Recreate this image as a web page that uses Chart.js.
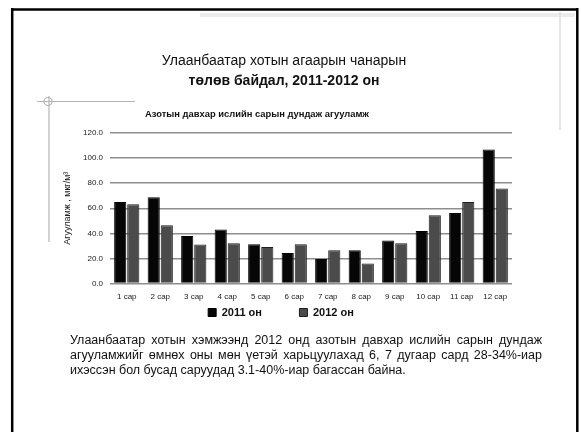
<!DOCTYPE html>
<html>
<head>
<meta charset="utf-8">
<script src="https://cdn.jsdelivr.net/npm/chart.js@4.4.1/dist/chart.umd.min.js"></script>
<style>
  html, body { margin: 0; padding: 0; background: #fff; }
  #slide { position: relative; width: 581px; height: 432px; overflow: hidden; font-family: "Liberation Sans", Arial, sans-serif; }
  #airChart { position: absolute; left: 0; top: 0; }
  #deco { position: absolute; left: 0; top: 0; }
  .head { position: absolute; left: 84px; width: 400px; text-align: center; color: #111; }
  .head.l1 { top: 52px; font-size: 14px; }
  .head.l2 { top: 72px; font-size: 14px; font-weight: bold; }
  .ctitle { position: absolute; left: 57px; width: 400px; top: 108px; text-align: center;
            font-size: 9.4px; font-weight: bold; color: #111; }
  .note { position: absolute; left: 70px; width: 472px; top: 333px; margin: 0;
          font-size: 12.5px; line-height: 15px; text-align: justify; color: #111; }
</style>
</head>
<body>
<div id="slide">
  <canvas id="airChart" width="581" height="432"></canvas>
  <svg id="deco" width="581" height="432">
    <!-- slide frame -->
    <line x1="12" y1="9.5" x2="578" y2="9.5" stroke="#000" stroke-width="2.5"/>
    <line x1="12.2" y1="8" x2="12.2" y2="432" stroke="#000" stroke-width="2.5"/>
    <line x1="577.3" y1="8" x2="577.3" y2="432" stroke="#000" stroke-width="2.5"/>
    <rect x="200" y="13" width="375" height="4" fill="#ececec"/>
    <line x1="560" y1="12" x2="560" y2="130" stroke="#dedede" stroke-width="1.5"/>
    <!-- corner ornament -->
    <line x1="37" y1="101.5" x2="135" y2="101.5" stroke="#b4b4b4" stroke-width="1.2"/>
    <line x1="49" y1="96" x2="49" y2="242" stroke="#b4b4b4" stroke-width="1.2"/>
    <circle cx="48" cy="101.5" r="4" fill="none" stroke="#b4b4b4" stroke-width="1.2"/>
  </svg>
  <div class="head l1">Улаанбаатар хотын агаарын чанарын</div>
  <div class="head l2">төлөв байдал, 2011-2012 он</div>
  <div class="ctitle">Азотын давхар ислийн сарын дундаж агууламж</div>
  <p class="note">Улаанбаатар хотын хэмжээнд 2012 онд азотын давхар ислийн сарын дундаж агууламжийг өмнөх оны мөн үетэй харьцуулахад 6, 7 дугаар сард 28-34%-иар ихэссэн бол бусад саруудад 3.1-40%-иар багассан байна.</p>
</div>
<script>
// monthly mean NO2 concentration, mkg/m3
const months = ['1 сар', '2 сар', '3 сар', '4 сар', '5 сар', '6 сар',
                '7 сар', '8 сар', '9 сар', '10 сар', '11 сар', '12 сар'];
const no2_2011 = [65.0, 68.8, 37.9, 43.0, 31.3, 24.4, 19.6, 26.5, 34.3, 41.9, 56.3, 106.8];
const no2_2012 = [63.2, 46.5, 31.0, 32.1, 29.2, 31.3, 26.5, 15.9, 32.1, 54.4, 65.0, 75.7];
const seriesNames = ['2011 он', '2012 он'];
const yMax = 120;
const yStep = 20;

const narrow = "'Liberation Sans Narrow', 'Liberation Sans', Arial, sans-serif";
const plain = "'Liberation Sans', Arial, sans-serif";

const ctx = document.getElementById('airChart').getContext('2d');
new Chart(ctx, {
    type: 'bar',
    data: {
        labels: months,
        datasets: [{
            label: seriesNames[0],
            data: no2_2011,
            backgroundColor: '#060606',
            borderColor: '#000',
            borderWidth: 1
        }, {
            label: seriesNames[1],
            data: no2_2012,
            backgroundColor: '#4b4b4b',
            borderColor: '#1e1e1e',
            borderWidth: 1
        }]
    },
    options: {
        responsive: false,
        animation: false,
        layout: { padding: { left: 50, right: 69, top: 133, bottom: 104 } },
        categoryPercentage: 0.78,
        barPercentage: 0.93,
        plugins: {
            legend: {
                position: 'bottom',
                labels: {
                    color: '#111',
                    font: { family: plain, size: 11, weight: 'bold' },
                    boxWidth: 8,
                    boxHeight: 8,
                    padding: 4.5,
                    // wide gap between the two entries
                    generateLabels(chart) {
                        const items = Chart.defaults.plugins.legend.labels.generateLabels(chart);
                        items[0].text = items[0].text + '\u2003\u2003\u2003';
                        return items;
                    }
                }
            },
            tooltip: { enabled: false }
        },
        scales: {
            x: {
                grid: { display: false, drawTicks: false },
                border: { display: false },
                ticks: { color: '#222', font: { family: narrow, size: 8 }, padding: 8.5, maxRotation: 0 },
                afterFit(scale) { scale.height = 19; }
            },
            y: {
                min: 0,
                max: yMax,
                grid: { color: '#8e8e8e', lineWidth: 1.5, drawTicks: false },
                border: { display: false },
                ticks: {
                    stepSize: yStep,
                    color: '#222',
                    font: { family: narrow, size: 8 },
                    padding: 7,
                    callback: v => v.toFixed(1)
                },
                title: {
                    display: true,
                    text: 'Агууламж , мкг/м³',
                    color: '#222',
                    font: { family: narrow, size: 9 },
                    padding: { top: 12, bottom: 0 }
                },
                afterFit(scale) { scale.width = 60; }
            }
        }
    }
});
</script>
</body>
</html>
